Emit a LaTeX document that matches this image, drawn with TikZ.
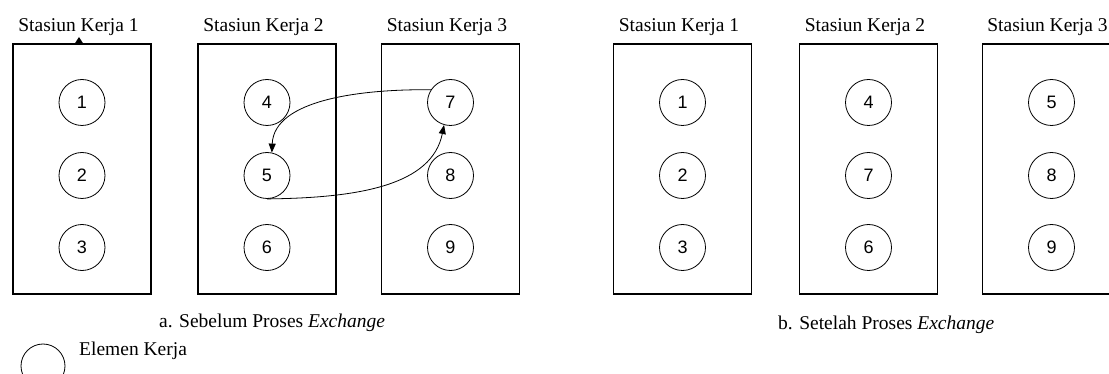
\documentclass[tikz,border=0pt]{standalone}
\usepackage{fontspec}
\setmainfont{Liberation Serif}
\newfontfamily\digitfont{Liberation Sans}
\usetikzlibrary{arrows.meta}
\tikzset{
  station/.style={draw, line width=1.7pt, minimum width=138pt, minimum height=250pt, inner sep=0pt},
  elem/.style={draw, circle, line width=0.8pt, minimum size=46pt, inner sep=0pt, font=\digitfont\fontsize{18}{18}\selectfont},
  title/.style={anchor=base, font=\fontsize{19.5}{22}\selectfont, inner sep=0pt},
  caption/.style={anchor=base west, font=\fontsize{19.5}{22}\selectfont, inner sep=0pt},
  swap/.style={line width=0.8pt, -{Triangle[length=9pt,width=7pt]}},
}
\begin{document}
\begin{tikzpicture}[x=1pt, y=-1pt]
\useasboundingbox (0,0) rectangle (1109,374);
% before exchange
\node[station] (s1) at (82,169) {};
\node[station] (s2) at (267,169) {};
\node[station] (s3) at (450.5,169) {};
\node[title] (t1) at (78.5,32) {Stasiun Kerja 1};
\node[title] (t2) at (263.5,32) {Stasiun Kerja 2};
\node[title] (t3) at (447,32) {Stasiun Kerja 3};
\fill (74.5,44) -- (79,37) -- (83.5,44) -- cycle;
\node[elem] (c1) at (82,102.5) {1};
\node[elem] (c2) at (82,175.5) {2};
\node[elem] (c3) at (82,247.5) {3};
\node[elem] (c4) at (267,102.5) {4};
\node[elem] (c5) at (267,175.5) {5};
\node[elem] (c6) at (267,247.5) {6};
\node[elem] (c7) at (450.5,102.5) {7};
\node[elem] (c8) at (450.5,175.5) {8};
\node[elem] (c9) at (450.5,247.5) {9};
\draw[swap] (c7.147) .. controls (360,89) and (274,100) .. (c5.78);
\draw[swap] (c5.south) .. controls (360,198) and (432,185) .. (c7.254);
\node[caption] (ca) at (159,327) {a. Sebelum Proses \textit{Exchange}};
% after exchange
\node[station] (r1) at (682.5,169) {};
\node[station] (r2) at (868.5,169) {};
\node[station] (r3) at (1051.5,169) {};
\node[title] (u1) at (679,32) {Stasiun Kerja 1};
\node[title] (u2) at (865,32) {Stasiun Kerja 2};
\node[title] (u3) at (1047.5,32) {Stasiun Kerja 3};
\node[elem] (d1) at (682.5,102.5) {1};
\node[elem] (d2) at (682.5,175.5) {2};
\node[elem] (d3) at (682.5,247.5) {3};
\node[elem] (d4) at (868.5,102.5) {4};
\node[elem] (d7) at (868.5,175.5) {7};
\node[elem] (d6) at (868.5,247.5) {6};
\node[elem] (d5) at (1051.5,102.5) {5};
\node[elem] (d8) at (1051.5,175.5) {8};
\node[elem] (d9) at (1051.5,247.5) {9};
\node[caption] (cb) at (778,329) {b. Setelah Proses \textit{Exchange}};
% legend
\node[elem, minimum size=44pt] (lg) at (43,366) {};
\node[caption] (lt) at (79,355) {Elemen Kerja};
\end{tikzpicture}
\end{document}
